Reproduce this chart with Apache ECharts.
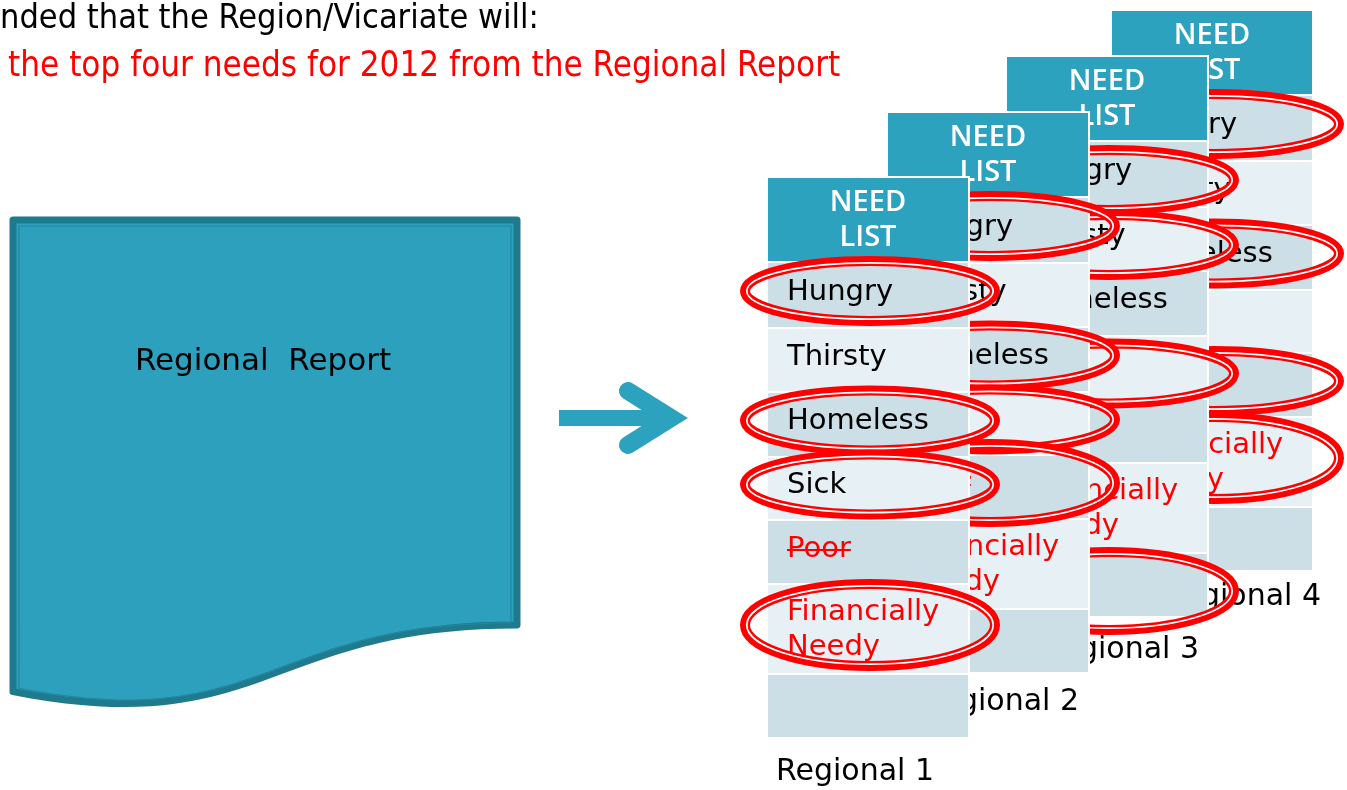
<!DOCTYPE html>
<html>
<head>
<meta charset="utf-8">
<script src="https://cdn.jsdelivr.net/npm/echarts@6/dist/echarts.min.js"></script>
<style>
html, body { margin: 0; padding: 0; background: #fff; }
#main { width: 1347px; height: 790px; }
</style>
</head>
<body>
<div id="main"></div>
<script>
// slide text
var introLine = 'nded that the Region/Vicariate will:';
var taskLine = 'the top four needs for 2012 from the Regional Report';
var reportTitle = 'Regional  Report';
var listTitle = ['NEED', 'LIST'];

// need list (same for every region)
var needs = ['Hungry', 'Thirsty', 'Homeless', 'Sick', 'Poor', 'Financially\nNeedy', ''];
var redNeeds = ['Poor', 'Financially\nNeedy'];
var crossedOut = ['Poor'];
var regions = ['Regional 1', 'Regional 2', 'Regional 3', 'Regional 4'];

// which needs are circled on each regional list
var circled1 = ['Hungry', 'Homeless', 'Sick', 'Financially\nNeedy'];
var circled2 = ['Hungry', 'Homeless', 'Sick', 'Poor'];
var circled3 = ['Hungry', 'Thirsty', 'Sick', ''];
var circled4 = ['Hungry', 'Homeless', 'Poor', 'Financially\nNeedy'];
var circled = [circled1, circled2, circled3, circled4];

// ---- layout / style
var TEAL = '#2da2bf';
var TEAL_DARK = '#1f7a8d';
var ROW_DARK = '#cddfe6';
var ROW_LIGHT = '#e7f0f4';
var RED = '#ff0000';
var FONT = '"DejaVu Sans", sans-serif';
var NARROW = '"DejaVu Sans Condensed", "DejaVu Sans", sans-serif';

var tableW = 200, headH = 83, gap = 2;
var rowH = [64, 62, 63, 61, 62, 88, 62];
var tablePos = [[768, 178], [888, 113], [1007, 57], [1112, 11]];
var labelPos = [[8, 594], [33, 589], [34, 593], [51, 586]];
var ringShift = [0, 0, 10, 0];
var tallRing = [[], ['Poor'], [''], []];

var measureCtx = document.createElement('canvas').getContext('2d');
function textWidth(txt, font) {
    measureCtx.font = font;
    return measureCtx.measureText(txt).width;
}

function rowTops() {
    var tops = [], y = headH + gap;
    for (var i = 0; i < rowH.length; i++) {
        tops.push(y);
        y += rowH[i] + gap;
    }
    return tops;
}

function tableElements(t) {
    var ox = tablePos[t][0], oy = tablePos[t][1];
    var tops = rowTops();
    var fullH = tops[tops.length - 1] + rowH[rowH.length - 1];
    var els = [];

    els.push({type: 'rect', silent: true, shape: {x: ox - 2, y: oy - 2, width: tableW + 4, height: fullH + 4}, style: {fill: '#fff'}});
    els.push({type: 'rect', silent: true, shape: {x: ox, y: oy, width: tableW, height: headH}, style: {fill: TEAL}});
    els.push({
        type: 'text', silent: true, x: ox + tableW / 2, y: oy + headH / 2 + 1,
        style: {text: listTitle.join('\n'), fill: '#fff', font: '600 29px "Open Sans", sans-serif',
            align: 'center', verticalAlign: 'middle', textAlign: 'center', textVerticalAlign: 'middle', lineHeight: 35}
    });

    var rowFont = '29px ' + FONT;
    for (var i = 0; i < needs.length; i++) {
        var y0 = oy + tops[i];
        els.push({type: 'rect', silent: true, shape: {x: ox, y: y0, width: tableW, height: rowH[i]},
            style: {fill: i % 2 === 0 ? ROW_DARK : ROW_LIGHT}});
        if (needs[i] === '') continue;
        var isRed = redNeeds.indexOf(needs[i]) >= 0;
        var twoLine = needs[i].indexOf('\n') >= 0;
        var cy = y0 + rowH[i] / 2 + (twoLine ? 1 : -3);
        els.push({
            type: 'text', silent: true, x: ox + 19, y: cy,
            style: {text: needs[i], fill: isRed ? RED : '#000', font: rowFont,
                align: 'left', verticalAlign: 'middle', textAlign: 'left', textVerticalAlign: 'middle', lineHeight: 35}
        });
        if (crossedOut.indexOf(needs[i]) >= 0) {
            var w = textWidth(needs[i], rowFont);
            els.push({type: 'line', silent: true, shape: {x1: ox + 19, y1: cy + 1, x2: ox + 19 + w, y2: cy + 1},
                style: {stroke: RED, lineWidth: 2}});
        }
    }

    els.push({
        type: 'text', silent: true, x: ox + labelPos[t][0], y: oy + labelPos[t][1],
        style: {text: regions[t], fill: '#000', font: '30px ' + FONT,
            align: 'left', verticalAlign: 'middle', textAlign: 'left', textVerticalAlign: 'middle'}
    });

    // red double rings round the chosen needs
    for (var k = 0; k < circled[t].length; k++) {
        var idx = needs.indexOf(circled[t][k]);
        var ry = rowH[idx] > 70 ? 41 : 30;
        if (tallRing[t].indexOf(circled[t][k]) >= 0) ry = 39;
        var rcx = ox + 102;
        var rcy = oy + tops[idx] + rowH[idx] / 2 - 4 + ringShift[t];
        els.push({type: 'ellipse', silent: true, shape: {cx: rcx, cy: rcy, rx: 125, ry: ry},
            style: {fill: 'none', stroke: RED, lineWidth: 10}});
        els.push({type: 'ellipse', silent: true, shape: {cx: rcx, cy: rcy, rx: 123.2, ry: ry - 1.8},
            style: {fill: 'none', stroke: '#fff', lineWidth: 1.7}});
    }
    return els;
}

// flowchart "document" outline
function docPoints(x, y, w, h) {
    var pts = [[x, y], [x + w, y], [x + w, y + 0.802 * h]];
    var p0 = [x + w, y + 0.802 * h], c1 = [x + w / 2, y + 0.802 * h],
        c2 = [x + w / 2, y + 1.03 * h], p3 = [x, y + 0.934 * h];
    for (var i = 1; i <= 40; i++) {
        var s = i / 40, u = 1 - s;
        pts.push([
            u * u * u * p0[0] + 3 * u * u * s * c1[0] + 3 * u * s * s * c2[0] + s * s * s * p3[0],
            u * u * u * p0[1] + 3 * u * u * s * c1[1] + 3 * u * s * s * c2[1] + s * s * s * p3[1]
        ]);
    }
    return pts;
}

var elements = [];

elements.push({
    type: 'text', silent: true, x: 0, y: 19,
    style: {text: introLine, fill: '#000', font: '34px ' + NARROW,
        align: 'left', verticalAlign: 'middle', textAlign: 'left', textVerticalAlign: 'middle'}
});
elements.push({
    type: 'text', silent: true, x: 8, y: 67,
    style: {text: taskLine, fill: RED, font: '34.7px ' + NARROW,
        align: 'left', verticalAlign: 'middle', textAlign: 'left', textVerticalAlign: 'middle'}
});

elements.push({type: 'polygon', silent: true, shape: {points: docPoints(13, 220, 504, 505)},
    style: {fill: '#2ca0bd', stroke: TEAL_DARK, lineWidth: 7, lineJoin: 'round'}});
elements.push({type: 'polygon', silent: true, shape: {points: docPoints(19, 226, 492, 495)},
    style: {fill: 'none', stroke: '#22879f', lineWidth: 1.2}});
elements.push({
    type: 'text', silent: true, x: 263, y: 362,
    style: {text: reportTitle, fill: '#000', font: '31px ' + FONT,
        align: 'center', verticalAlign: 'middle', textAlign: 'center', textVerticalAlign: 'middle'}
});

// arrow
elements.push({type: 'rect', silent: true, shape: {x: 559, y: 410, width: 100, height: 16}, style: {fill: TEAL}});
elements.push({type: 'polyline', silent: true, shape: {points: [[628, 391], [671, 418], [628, 445]]},
    style: {fill: 'none', stroke: TEAL, lineWidth: 18, lineCap: 'round', lineJoin: 'miter', miterLimit: 10}});

for (var t = regions.length - 1; t >= 0; t--) {
    elements = elements.concat(tableElements(t));
}

var chart = echarts.init(document.getElementById('main'), null, {renderer: 'canvas'});
chart.setOption({
    animation: false,
    graphic: {elements: elements}
});
</script>
</body>
</html>
